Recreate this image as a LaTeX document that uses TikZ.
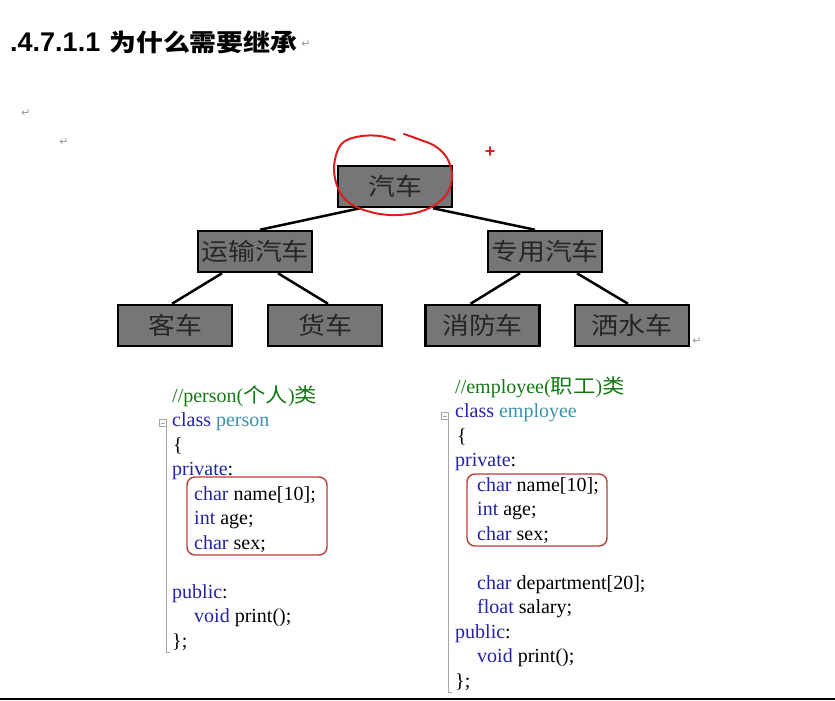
\documentclass[tikz,border=0pt]{standalone}
\usepackage{fontspec}
\setmainfont{Liberation Serif}
\newfontfamily\headfont{Liberation Sans}
\newfontfamily\cjkfont[FakeStretch=1.12]{Noto Sans CJK SC}
\newfontfamily\markfont{DejaVu Sans}
\usetikzlibrary{
  calc,
  positioning,
}

\definecolor{boxgray}{RGB}{118,118,118}
\definecolor{kwblue}{RGB}{35,35,165}
\definecolor{typeteal}{RGB}{60,145,170}
\definecolor{cmtgreen}{RGB}{20,120,20}
\definecolor{boxred}{RGB}{185,60,60}
\definecolor{penred}{RGB}{220,30,30}

\newcommand{\zh}[1]{{\cjkfont #1}}
\newcommand{\kw}[1]{\textcolor{kwblue}{#1}}
\newcommand{\tp}[1]{\textcolor{typeteal}{#1}}
\newcommand{\cm}[1]{\textcolor{cmtgreen}{#1}}

\tikzset{
  carbox/.style={draw=black, line width=2.5pt, fill=boxgray,
    minimum width=114pt, minimum height=41pt, inner sep=0pt,
    text=black!85, font=\cjkfont\fontsize{24}{24}\selectfont},
  link/.style={line width=2.5pt},
  codeline/.style={anchor=base west, inner sep=0pt,
    font=\fontsize{20}{24}\selectfont},
  retmark/.style={inner sep=0pt, text=black!40,
    font=\markfont\fontsize{11}{11}\selectfont},
  fieldbox/.style={draw=boxred, line width=1.4pt, rounded corners=8pt},
  foldline/.style={draw=black!35, line width=0.8pt},
}

\begin{document}
\begin{tikzpicture}[x=1pt, y=-1pt]

        \useasboundingbox (0,0) rectangle (835,701);

        \node [anchor=base west, inner sep=0pt, font=\headfont\bfseries\fontsize{27}{27}\selectfont]
              (title) at (10,52) {.4.7.1.1\hspace{9pt}{\fontsize{24}{24}\selectfont\zh{为什么需要继承}}};

        \foreach \x/\y [count=\i] in {306/44, 26/113, 64/142, 697/341} {
          \node [retmark] (ret\i) at (\x,\y) {↵};
        }

        \node [carbox] (car) at (395,186.5) {汽车};

        \node [carbox] (transp) at (255,251.5) {运输汽车};
        \node [carbox] (special) at (545,251.5) {专用汽车};

        \node [carbox] (bus) at (175,325.5) {客车};
        \node [carbox] (truck) at (325,325.5) {货车};
        \node [carbox] (fire) at (482.5,325.5) {消防车};
        \node [carbox] (sprinkler) at (632,325.5) {洒水车};

        \draw [link] ([xshift=-35pt]car.south) -- ([xshift=5pt]transp.north);
        \draw [link] ([xshift=38pt]car.south) -- ([xshift=-10pt]special.north);

        \draw [link] ([xshift=-33pt]transp.south) -- ([xshift=-3pt]bus.north);
        \draw [link] ([xshift=23pt]transp.south) -- ([xshift=3pt]truck.north);
        \draw [link] ([xshift=-25pt]special.south) -- ([xshift=-12pt]fire.north);
        \draw [link] ([xshift=32pt]special.south) -- ([xshift=-4pt]sprinkler.north);

        \draw [penred, line width=2pt, line cap=round]
              plot [smooth, tension=0.6] coordinates {
                (395,140) (380,136) (362,136) (345,141) (337,152) (334,170)
                (338,188) (348,202) (367,211) (390,215) (415,213) (435,205)
                (448,192) (452,175) (447,158) (435,146) (418,139) (404,134)};

        \node [text=penred, inner sep=0pt, font=\headfont\bfseries\fontsize{18}{18}\selectfont]
              (plus) at (490,152) {+};

        % person
        \node [codeline] (pcmt) at (172,402) {\cm{//person(\zh{个人})\zh{类}}};
        \node [codeline] (pcls) at (172,426.5) {\kw{class} \tp{person}};
        \node [codeline] (pbrace) at (173,451) {\{};
        \node [codeline] (ppriv) at (172,475.5) {\kw{private}:};
        \node [codeline] (pname) at (194,500) {\kw{char} name[10];};
        \node [codeline] (page) at (194,524.5) {\kw{int} age;};
        \node [codeline] (psex) at (194,549) {\kw{char} sex;};
        \node [codeline] (ppub) at (172,598) {\kw{public}:};
        \node [codeline] (pprint) at (194,622.5) {\kw{void} print();};
        \node [codeline] (pend) at (172,647) {\};};

        \draw [fieldbox] (187,477) rectangle (327,555);

        \draw [foldline] (159.5,419.5) rectangle (166.5,426.5);
        \draw [foldline] (161,423) -- (165,423);
        \draw [foldline] (166,427) -- (166,652) -- (170,652);

        % employee
        \node [codeline] (ecmt) at (455,393) {\cm{//employee(\zh{职工})\zh{类}}};
        \node [codeline] (ecls) at (455,417.5) {\kw{class} \tp{employee}};
        \node [codeline] (ebrace) at (457,442) {\{};
        \node [codeline] (epriv) at (455,466.5) {\kw{private}:};
        \node [codeline] (ename) at (477,491) {\kw{char} name[10];};
        \node [codeline] (eage) at (477,515.5) {\kw{int} age;};
        \node [codeline] (esex) at (477,540) {\kw{char} sex;};
        \node [codeline] (edept) at (477,589) {\kw{char} department[20];};
        \node [codeline] (esal) at (477,613.5) {\kw{float} salary;};
        \node [codeline] (epub) at (455,638) {\kw{public}:};
        \node [codeline] (eprint) at (477,662.5) {\kw{void} print();};
        \node [codeline] (eend) at (455,687) {\};};

        \draw [fieldbox] (467,474) rectangle (607,546);

        \draw [foldline] (441.5,412.5) rectangle (448.5,419.5);
        \draw [foldline] (443,416) -- (447,416);
        \draw [foldline] (448,420) -- (448,692) -- (452,692);

        \draw [line width=2pt] (0,699) -- (835,699);

\end{tikzpicture}
\end{document}
